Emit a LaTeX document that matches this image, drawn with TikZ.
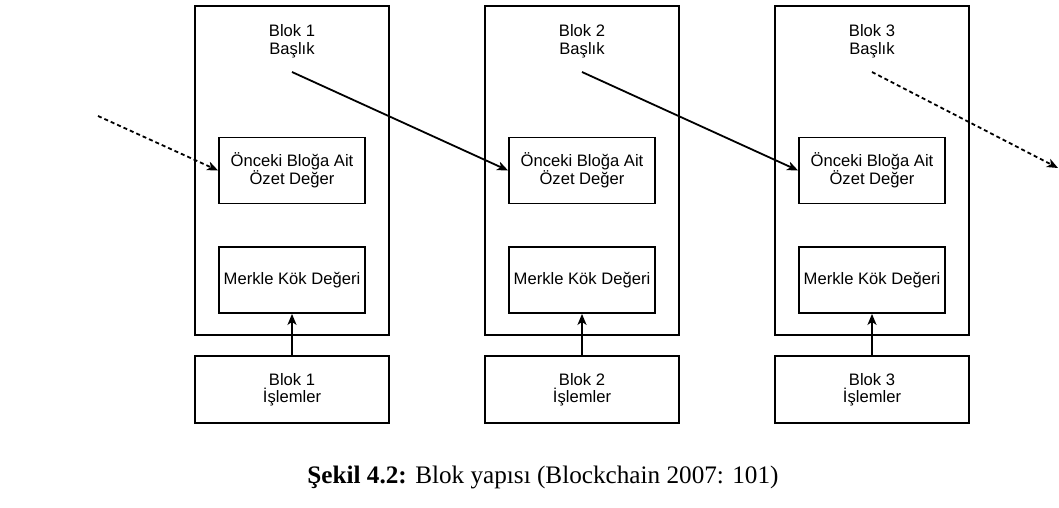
\documentclass[tikz,border=0pt]{standalone}
\usepackage{fontspec}
\setmainfont{Liberation Serif}
\setsansfont{Liberation Sans}
\usepackage{tikz}
\usetikzlibrary{arrows.meta}

\begin{document}
\begin{tikzpicture}[x=1pt, y=-1pt, line width=1.8pt,
  every node/.style={inner sep=0pt, align=center, font=\sffamily\fontsize{16.6}{17.5}\selectfont},
  blockbox/.style={draw, rectangle, minimum width=194pt, minimum height=329pt},
  fieldbox/.style={draw, rectangle, minimum width=146pt, minimum height=66pt},
  txbox/.style={draw, rectangle, minimum width=194pt, minimum height=67pt},
  link/.style={-{Stealth[length=11pt, width=9pt, inset=3pt]}}]
     \useasboundingbox (0,0) rectangle (1059,507);

     % blok 1
     \node[blockbox] (B1) at (292, 170.5) {};
     \node (H1) at (292, 41) {Blok 1\\Başlık};
     \node[fieldbox] (P1) at (292, 170.5) {Önceki Bloğa Ait\\Özet Değer};
     \node[fieldbox] (M1) at (292, 280) {Merkle Kök Değeri};
     \node[txbox] (T1) at (292, 389.5) {Blok 1\\İşlemler};
     \coordinate (S1) at (292, 72);

     % blok 2
     \node[blockbox] (B2) at (582, 170.5) {};
     \node (H2) at (582, 41) {Blok 2\\Başlık};
     \node[fieldbox] (P2) at (582, 170.5) {Önceki Bloğa Ait\\Özet Değer};
     \node[fieldbox] (M2) at (582, 280) {Merkle Kök Değeri};
     \node[txbox] (T2) at (582, 389.5) {Blok 2\\İşlemler};
     \coordinate (S2) at (582, 72);

     % blok 3
     \node[blockbox] (B3) at (872, 170.5) {};
     \node (H3) at (872, 41) {Blok 3\\Başlık};
     \node[fieldbox] (P3) at (872, 170.5) {Önceki Bloğa Ait\\Özet Değer};
     \node[fieldbox] (M3) at (872, 280) {Merkle Kök Değeri};
     \node[txbox] (T3) at (872, 389.5) {Blok 3\\İşlemler};
     \coordinate (S3) at (872, 72);

     \coordinate (in) at (98, 116);
     \coordinate (out) at (1058, 168);

     \draw[link] (T1) -- (M1);
     \draw[link] (T2) -- (M2);
     \draw[link] (T3) -- (M3);

     \draw[link, dash pattern=on 4pt off 3pt] (in) -- (P1.west);
     \draw[link] (S1) -- (P2.west);
     \draw[link] (S2) -- (P3.west);
     \draw[link, dash pattern=on 4pt off 3pt] (S3) -- (out);

     \node[font=\rmfamily\fontsize{25.2}{29}\selectfont] (cap) at (543, 477) {\textbf{Şekil 4.2:} Blok yapısı (Blockchain 2007: 101)};
    \end{tikzpicture}
\end{document}
